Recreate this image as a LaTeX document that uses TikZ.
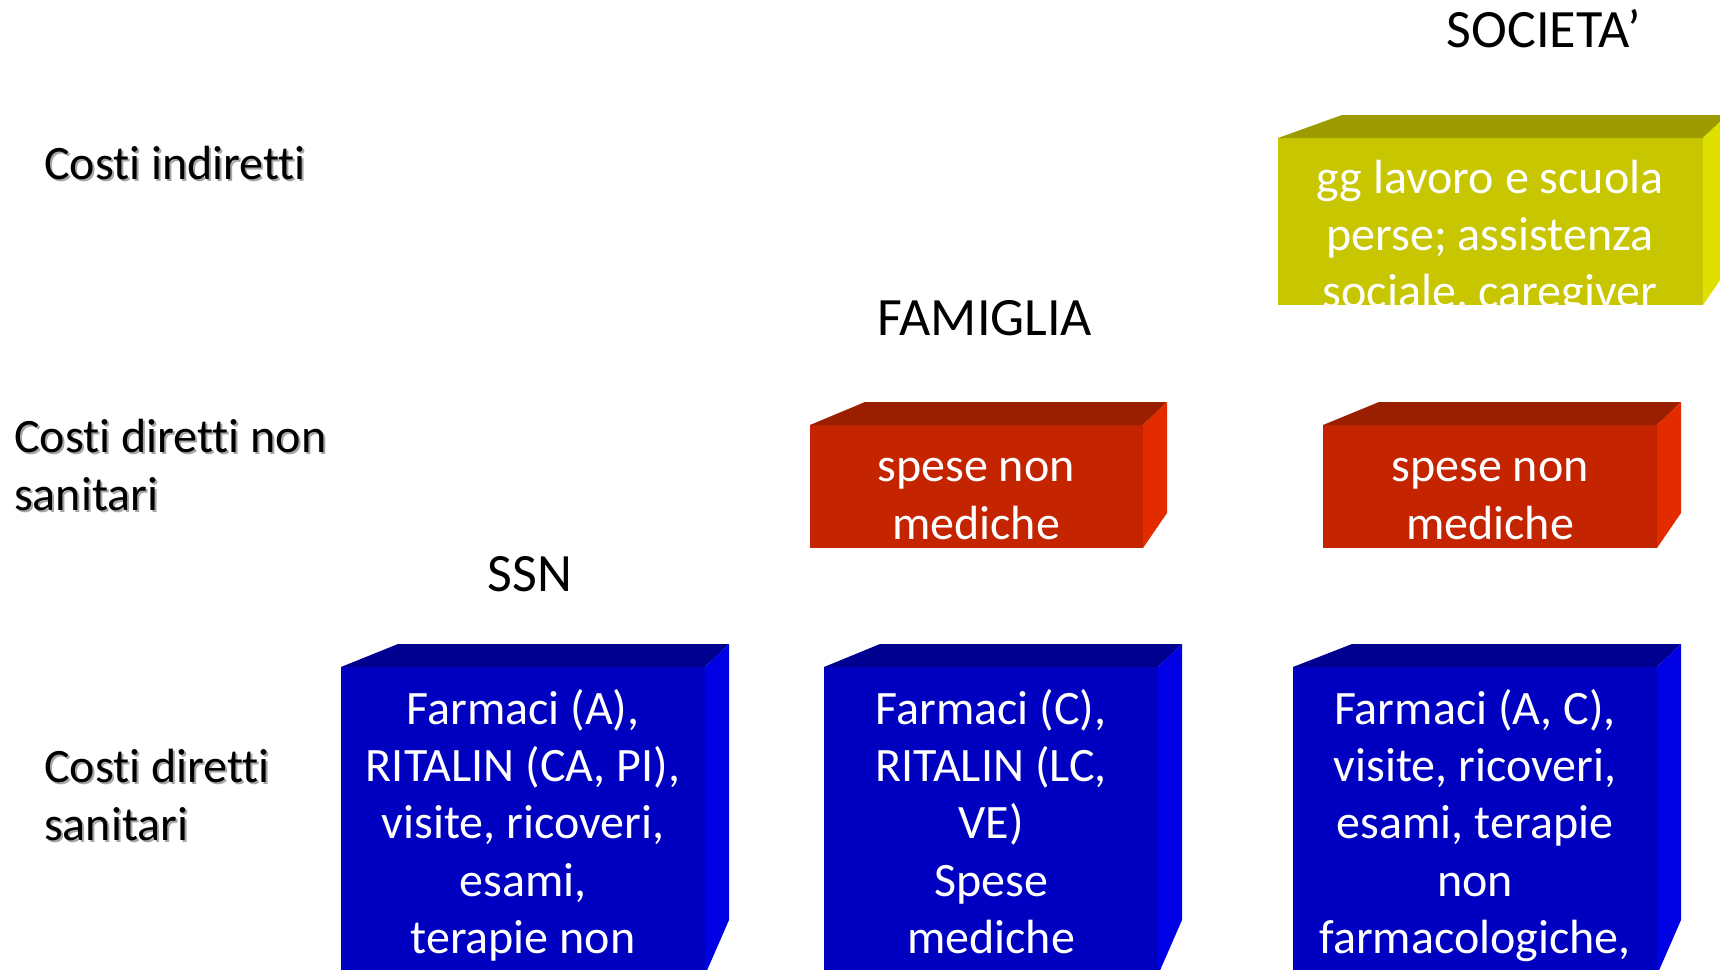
\documentclass[tikz,border=0pt]{standalone}
\usepackage{fontspec}
\setmainfont{Carlito}[Ligatures=NoCommon]
\definecolor{frontblue}{RGB}{0,0,192}
\definecolor{topblue}{RGB}{0,0,144}
\definecolor{sideblue}{RGB}{0,0,228}
\definecolor{frontred}{RGB}{196,36,0}
\definecolor{topred}{RGB}{154,31,0}
\definecolor{sidered}{RGB}{227,43,0}
\definecolor{frontyellow}{RGB}{200,198,0}
\definecolor{topyellow}{RGB}{156,155,0}
\definecolor{sideyellow}{RGB}{224,224,0}
\tikzset{
  boxtext/.style={text=white, align=center, anchor=base, inner sep=0pt,
    font=\fontsize{48}{57.4}\selectfont},
  rowlabel/.style={align=left, anchor=base west, inner sep=0pt,
    font=\fontsize{48}{57.4}\selectfont},
  rowshadow/.style={rowlabel, text=black!35, xshift=2pt, yshift=-2pt},
  collabel/.style={anchor=base, inner sep=0pt, font=\fontsize{54}{65}\selectfont}
}
\begin{document}
\begin{tikzpicture}[x=1pt,y=-1pt]
\useasboundingbox (0,0) rectangle (1720,969);
\clip (0,0) rectangle (1720,969);
% boxes: left/right/top/bottom/side bottom/slant/colour
\foreach \xl/\xr/\yt/\yb/\ys/\dx/\c in {341/705/667/975/920/57/blue,
  824/1158/667/975/920/56/blue, 1293/1657/667/975/920/59/blue,
  810/1143/425/548/513/55/red, 1323/1657/425/548/513/56/red,
  1278/1703/138/305/270/64/yellow}{
  \fill[front\c] (\xl,\yt) rectangle (\xr,\yb);
  \fill[top\c] (\xl,\yt) -- ++(\dx,-23) -- (\xr+24,\yt-23) -- (\xr,\yt) -- cycle;
  \fill[side\c] (\xr,\yt) -- (\xr+24,\yt-23) -- (\xr+24,\ys) -- (\xr,\yb) -- cycle;
}
% column heads
\node[collabel] (societa) at (1544,47) {SOCIETA’};
\node[collabel] (famiglia) at (985,335) {FAMIGLIA};
\node[collabel] (ssn) at (530,591) {SSN};
% row labels (base = last line)
\node[rowshadow] (indiretti-sh) at (44,179) {Costi indiretti};
\node[rowlabel] (indiretti) at (44,179) {Costi indiretti};
\node[rowshadow] (nonsan-sh) at (14,510) {Costi diretti non\\sanitari};
\node[rowlabel] (nonsan) at (14,510) {Costi diretti non\\sanitari};
\node[rowshadow] (sanitari-sh) at (44,840) {Costi diretti\\sanitari};
\node[rowlabel] (sanitari) at (44,840) {Costi diretti\\sanitari};
% box texts (base = last line)
\node[boxtext] (ssn-san) at (523,953.6) {Farmaci (A),\\RITALIN (CA, PI),\\visite, ricoveri,\\esami,\\terapie non};
\node[boxtext] (fam-san) at (991,953.6) {Farmaci (C),\\RITALIN (LC,\\VE)\\Spese\\mediche};
\node[boxtext] (soc-san) at (1475,953.6) {Farmaci (A, C),\\visite, ricoveri,\\esami, terapie\\non\\farmacologiche,};
\node[boxtext] (fam-nonsan) at (976,539) {spese non\\mediche};
\node[boxtext] (soc-nonsan) at (1490,539) {spese non\\mediche};
\node[boxtext] (soc-indir) at (1490,307.8) {gg lavoro e scuola\\perse; assistenza\\sociale, caregiver};
\end{tikzpicture}
\end{document}
